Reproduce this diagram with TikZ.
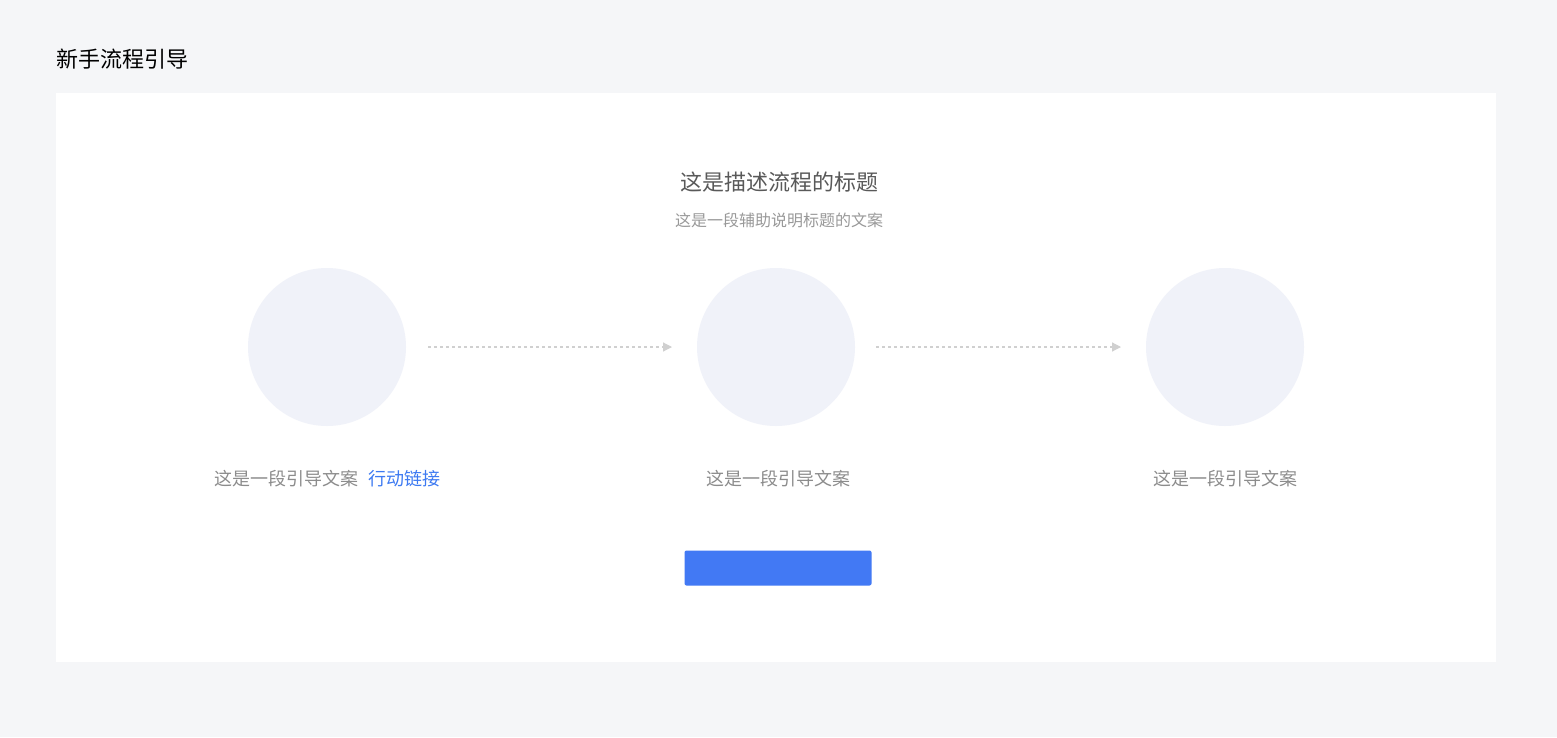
\documentclass[tikz,border=0pt]{standalone}
\usepackage{fontspec}
\setmainfont{Noto Sans CJK SC}
\usetikzlibrary{arrows.meta}
\definecolor{bgc}{HTML}{F5F6F8}
\definecolor{circc}{HTML}{F0F2F9}
\definecolor{titlec}{HTML}{595959}
\definecolor{subc}{HTML}{999999}
\definecolor{labc}{HTML}{8C8C8C}
\definecolor{linkc}{HTML}{3D7AF2}
\definecolor{btnc}{HTML}{4279F4}
\definecolor{arrc}{HTML}{D0D0D0}
\tikzset{
  stepcircle/.style={circle,fill=circc,minimum size=158pt,inner sep=0pt},
  flowarrow/.style={draw=arrc,line width=1.2pt,dash pattern=on 3pt off 3pt,-{Triangle[length=9pt,width=9pt,fill=arrc]}},
  steplabel/.style={text=labc,font=\fontsize{18}{18}\selectfont,inner sep=0pt},
}
\begin{document}
\begin{tikzpicture}[x=1pt,y=-1pt]
\useasboundingbox (0,0) rectangle (1557,737);
\fill[bgc] (0,0) rectangle (1557,737);
\fill[white] (56,93) rectangle (1496,662);
\node[anchor=west,inner sep=0pt,font=\fontsize{22}{22}\selectfont] (pagetitle) at (56,59) {新手流程引导};
\node[text=titlec,inner sep=0pt,font=\fontsize{22}{22}\selectfont] (heading) at (779,182) {这是描述流程的标题};
\node[text=subc,inner sep=0pt,font=\fontsize{16}{16}\selectfont] (subheading) at (779,220) {这是一段辅助说明标题的文案};
\node[stepcircle] (c1) at (327,347) {};
\node[stepcircle] (c2) at (776,347) {};
\node[stepcircle] (c3) at (1225,347) {};
\coordinate (a1s) at (428,347);
\coordinate (a1e) at (672,347);
\coordinate (a2s) at (876,347);
\coordinate (a2e) at (1121,347);
\draw[flowarrow] (a1s) -- (a1e);
\draw[flowarrow] (a2s) -- (a2e);
\node[steplabel,anchor=west] (l1) at (214,479) {这是一段引导文案};
\node[steplabel,anchor=west,text=linkc] (link) at (368,479) {行动链接};
\node[steplabel] (l2) at (778,479) {这是一段引导文案};
\node[steplabel] (l3) at (1225,479) {这是一段引导文案};
\node[fill=btnc,rounded corners=2pt,minimum width=187pt,minimum height=35pt,inner sep=0pt] (btn) at (778,568) {};
\end{tikzpicture}
\end{document}
